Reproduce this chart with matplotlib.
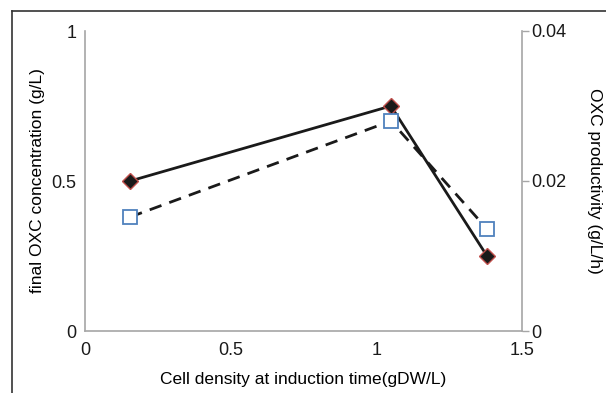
import matplotlib
matplotlib.use("Agg")
import matplotlib.pyplot as plt
from matplotlib.lines import Line2D

plt.rcParams['font.family'] = ['Liberation Sans', 'DejaVu Sans']

# data
cell_density = [0.155, 1.05, 1.38]
final_conc = [0.50, 0.75, 0.25]          # g/L, left axis
productivity = [0.0152, 0.0280, 0.0136]  # g/L/h, right axis

grey = '#a6a6a6'

fig = plt.figure(figsize=(6.06, 3.93), dpi=100)
ax = fig.add_axes([85/606, 62/393, 437/606, 300/393])
ax2 = ax.twinx()

ax.plot(cell_density, final_conc, color='#1a1a1a', lw=2, marker='D', ms=8.5,
        mfc='#1a1a1a', mec='#c0504d', mew=1, zorder=3)
ax2.plot(cell_density, productivity, color='#1a1a1a', lw=2, ls=(0, (4.5, 3)), marker='s', ms=10,
         mfc='white', mec='#4f81bd', mew=1.3, zorder=3)

ax.set_xlim(0, 1.5)
ax.set_ylim(0, 1)
ax2.set_ylim(0, 0.04)
ax.set_xticks([0, 0.5, 1, 1.5])
ax.set_xticklabels(['0', '0.5', '1', '1.5'])
ax.set_yticks([0, 0.5, 1])
ax.set_yticklabels(['0', '0.5', '1'])
ax2.set_yticks([0, 0.02, 0.04])
ax2.set_yticklabels(['0', '0.02', '0.04'])

for a in (ax, ax2):
    a.spines['top'].set_visible(False)
    for s in ('left', 'bottom', 'right'):
        a.spines[s].set_color(grey)
        a.spines[s].set_linewidth(1.2)
ax.spines['right'].set_visible(False)
ax2.spines['left'].set_visible(False)
ax2.spines['bottom'].set_visible(False)

ax.tick_params(axis='y', length=0, labelsize=13, pad=6, colors='#1a1a1a')
ax.tick_params(axis='x', length=0, labelsize=13, pad=8, colors='#1a1a1a')
ax2.tick_params(axis='y', length=5, width=1, color=grey, labelsize=13, pad=2, labelcolor='#1a1a1a')

ax.set_xlabel('Cell density at induction time(gDW/L)', fontsize=12.5, labelpad=9)
ax.set_ylabel('final OXC concentration (g/L)', fontsize=12.5, labelpad=5)
ax2.set_ylabel('OXC productivity (g/L/h)', fontsize=12.5, rotation=270, labelpad=25)

# partial frame from the original figure
fig.add_artist(Line2D([12/606, 1], [1 - 11/393, 1 - 11/393], transform=fig.transFigure, color='#333333', lw=1.2))
fig.add_artist(Line2D([12/606, 12/606], [0, 1 - 11/393], transform=fig.transFigure, color='#333333', lw=1.2))

fig.savefig('out.png', dpi=100)
